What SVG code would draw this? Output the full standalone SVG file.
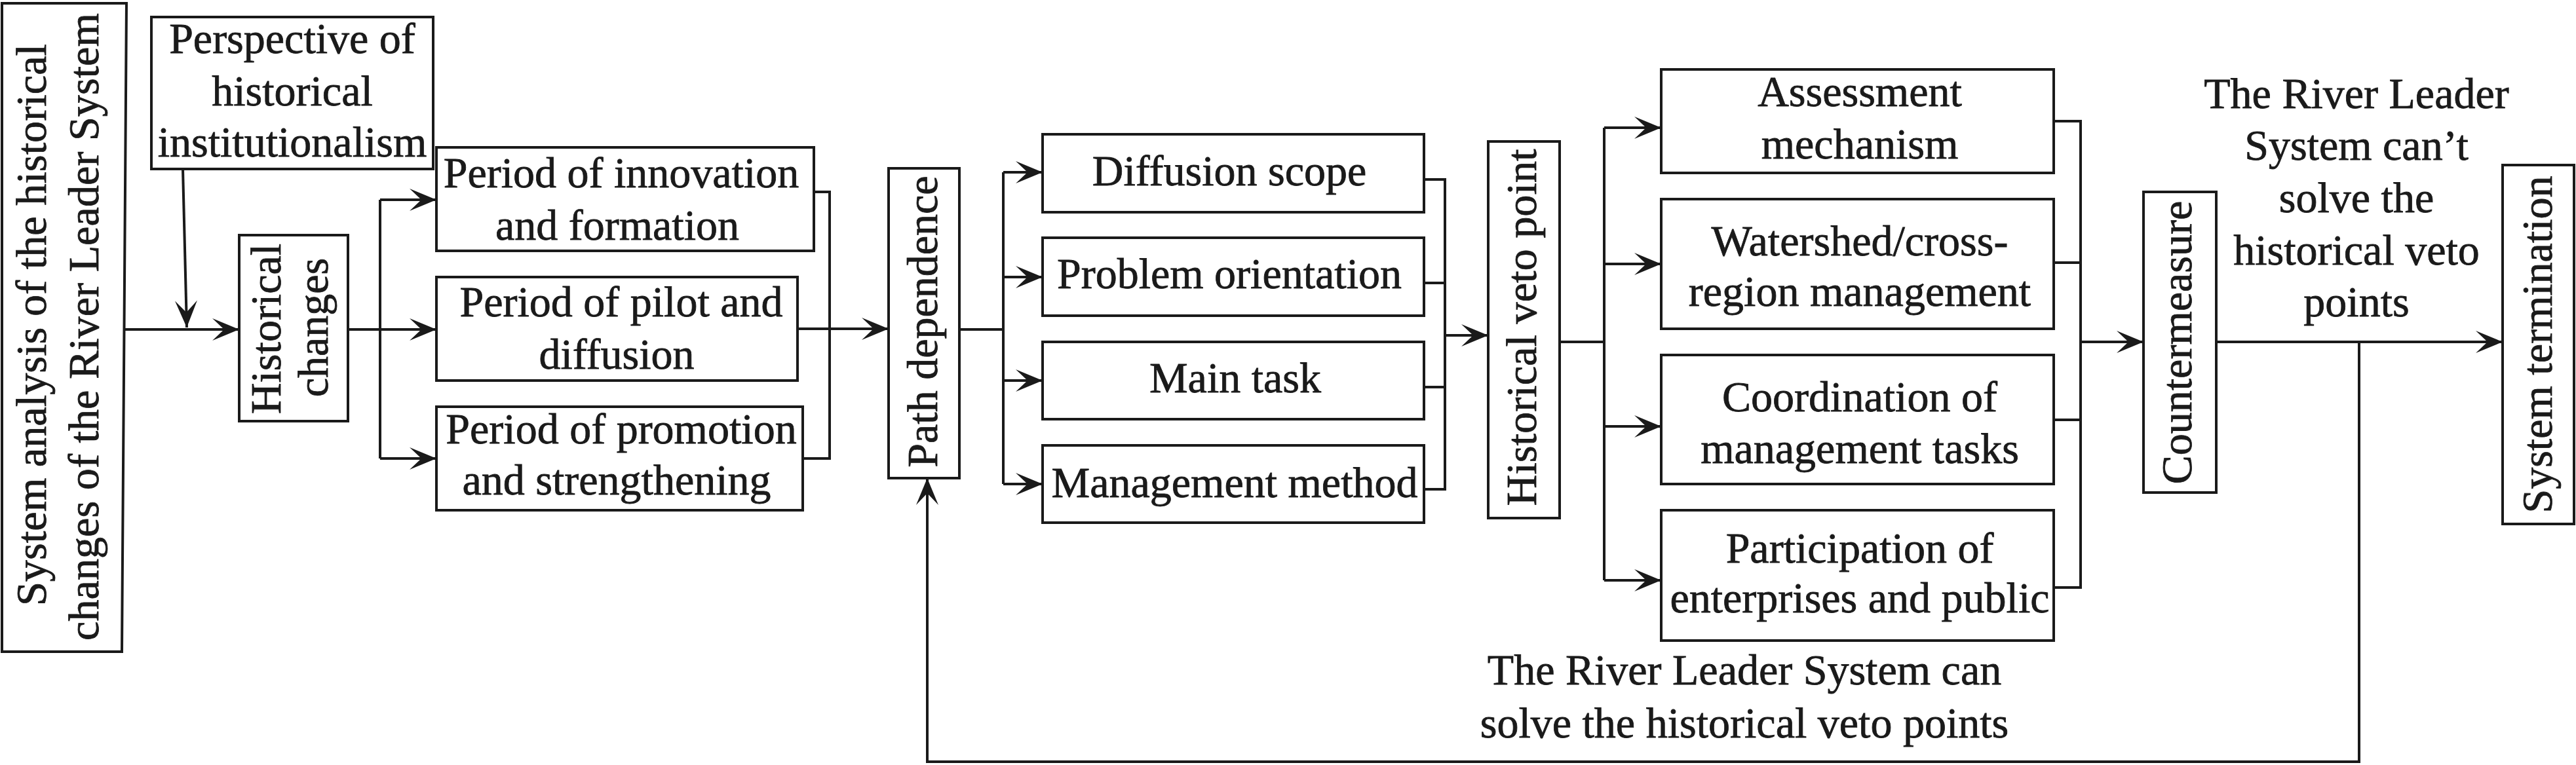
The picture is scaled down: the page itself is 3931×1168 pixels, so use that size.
<svg xmlns="http://www.w3.org/2000/svg" width="3931" height="1168" viewBox="0 0 3931 1168">
<defs>
<style>
.box{fill:#ffffff;stroke:#1a1a1a;stroke-width:4}
.ln{fill:none;stroke:#1a1a1a;stroke-width:4}
.ar{fill:none;stroke:#1a1a1a;stroke-width:4;marker-end:url(#ah)}
text{font-family:"Liberation Serif","Times New Roman",serif;font-size:66px;fill:#1a1a1a;stroke:#1a1a1a;stroke-width:0.8;text-anchor:middle}
</style>
<marker id="ah" markerUnits="userSpaceOnUse" viewBox="-42 -18 44 36" markerWidth="44" markerHeight="36" refX="0" refY="0" orient="auto" overflow="visible">
<path d="M0,0 L-41,-17 L-23,0 L-41,17 Z" fill="#1a1a1a"/>
</marker>
</defs>
<rect width="3931" height="1168" fill="#ffffff"/>

<g id="connectors">
<line class="ar" x1="189" y1="503" x2="365" y2="503"/>
<line class="ar" x1="279" y1="258" x2="285" y2="500"/>
<polyline class="ln" points="531,503 580,503"/>
<polyline class="ln" points="580,305 580,700"/>
<line class="ar" x1="580" y1="305" x2="666" y2="305"/>
<line class="ar" x1="580" y1="503" x2="666" y2="503"/>
<line class="ar" x1="580" y1="700" x2="666" y2="700"/>
<polyline class="ln" points="1242,293 1266,293 1266,700 1225,700"/>
<line class="ar" x1="1217" y1="502" x2="1356" y2="502"/>
<polyline class="ln" points="1464,503 1531,503"/>
<polyline class="ln" points="1531,263 1531,739"/>
<line class="ar" x1="1531" y1="263" x2="1591" y2="263"/>
<line class="ar" x1="1531" y1="423" x2="1591" y2="423"/>
<line class="ar" x1="1531" y1="581" x2="1591" y2="581"/>
<line class="ar" x1="1531" y1="739" x2="1591" y2="739"/>
<polyline class="ln" points="2173,274 2205,274 2205,747 2173,747"/>
<polyline class="ln" points="2173,432 2205,432"/>
<polyline class="ln" points="2173,591 2205,591"/>
<line class="ar" x1="2205" y1="512" x2="2271" y2="512"/>
<polyline class="ln" points="2380,522 2448,522"/>
<polyline class="ln" points="2448,195 2448,886"/>
<line class="ar" x1="2448" y1="195" x2="2535" y2="195"/>
<line class="ar" x1="2448" y1="403" x2="2535" y2="403"/>
<line class="ar" x1="2448" y1="651" x2="2535" y2="651"/>
<line class="ar" x1="2448" y1="886" x2="2535" y2="886"/>
<polyline class="ln" points="3134,185 3175,185 3175,897 3134,897"/>
<polyline class="ln" points="3134,401 3175,401"/>
<polyline class="ln" points="3134,641 3175,641"/>
<line class="ar" x1="3175" y1="522" x2="3271" y2="522"/>
<line class="ar" x1="3382" y1="522" x2="3819" y2="522"/>
<polyline class="ar" points="3600,522 3600,1163 1415,1163 1415,730"/>
</g>

<g id="n_system">
<polygon class="box" points="3,5 193,5 186,995 3,995"/>
<text transform="translate(70,496) rotate(-90)" textLength="858" lengthAdjust="spacingAndGlyphs">System analysis of the historical</text>
<text transform="translate(150,499) rotate(-90)" textLength="958" lengthAdjust="spacingAndGlyphs">changes of the River Leader System</text>
</g>

<g id="n_perspective">
<rect class="box" x="231" y="26" width="430" height="232"/>
<text x="446" y="81">Perspective of</text>
<text x="446" y="161">historical</text>
<text x="446" y="239">institutionalism</text>
</g>

<g id="n_historical_changes">
<rect class="box" x="365" y="359" width="166" height="284"/>
<text transform="translate(428,502) rotate(-90)">Historical</text>
<text transform="translate(500,500) rotate(-90)">changes</text>
</g>

<g id="n_period1">
<rect class="box" x="666" y="225" width="576" height="158"/>
<text x="948" y="286">Period of innovation</text>
<text x="942" y="366">and formation</text>
</g>

<g id="n_period2">
<rect class="box" x="666" y="423" width="551" height="158"/>
<text x="948" y="483">Period of pilot and</text>
<text x="941" y="563">diffusion</text>
</g>

<g id="n_period3">
<rect class="box" x="666" y="621" width="559" height="158"/>
<text x="948" y="677">Period of promotion</text>
<text x="941" y="755">and strengthening</text>
</g>

<g id="n_path">
<rect class="box" x="1356" y="257" width="108" height="473"/>
<text transform="translate(1430,491) rotate(-90)">Path dependence</text>
</g>

<g id="n_diffusion">
<rect class="box" x="1591" y="205" width="582" height="119"/>
<text x="1876" y="283">Diffusion scope</text>
</g>
<g id="n_problem">
<rect class="box" x="1591" y="363" width="582" height="119"/>
<text x="1876" y="440">Problem orientation</text>
</g>
<g id="n_main">
<rect class="box" x="1591" y="522" width="582" height="118"/>
<text x="1885" y="599">Main task</text>
</g>
<g id="n_method">
<rect class="box" x="1591" y="680" width="582" height="118"/>
<text x="1884" y="759">Management method</text>
</g>

<g id="n_veto">
<rect class="box" x="2271" y="216" width="109" height="575"/>
<text transform="translate(2344,500) rotate(-90)" textLength="545" lengthAdjust="spacingAndGlyphs">Historical veto point</text>
</g>

<g id="n_assessment">
<rect class="box" x="2535" y="106" width="599" height="158"/>
<text x="2838" y="162">Assessment</text>
<text x="2838" y="242">mechanism</text>
</g>
<g id="n_watershed">
<rect class="box" x="2535" y="304" width="599" height="198"/>
<text x="2838" y="390">Watershed/cross-</text>
<text x="2838" y="467">region management</text>
</g>
<g id="n_coordination">
<rect class="box" x="2535" y="542" width="599" height="197"/>
<text x="2838" y="628">Coordination of</text>
<text x="2838" y="707">management tasks</text>
</g>
<g id="n_participation">
<rect class="box" x="2535" y="779" width="599" height="199"/>
<text x="2838" y="859">Participation of</text>
<text x="2838" y="935">enterprises and public</text>
</g>

<g id="n_countermeasure">
<rect class="box" x="3271" y="293" width="111" height="459"/>
<text transform="translate(3344,523) rotate(-90)">Countermeasure</text>
</g>

<g id="n_termination">
<rect class="box" x="3819" y="252" width="109" height="548"/>
<text transform="translate(3894,526) rotate(-90)">System termination</text>
</g>

<g id="label_cant">
<text x="3596" y="165">The River Leader</text>
<text x="3596" y="244">System can’t</text>
<text x="3596" y="324">solve the</text>
<text x="3596" y="404">historical veto</text>
<text x="3596" y="483">points</text>
</g>

<g id="label_can">
<text x="2662" y="1045">The River Leader System can</text>
<text x="2662" y="1126">solve the historical veto points</text>
</g>
</svg>
